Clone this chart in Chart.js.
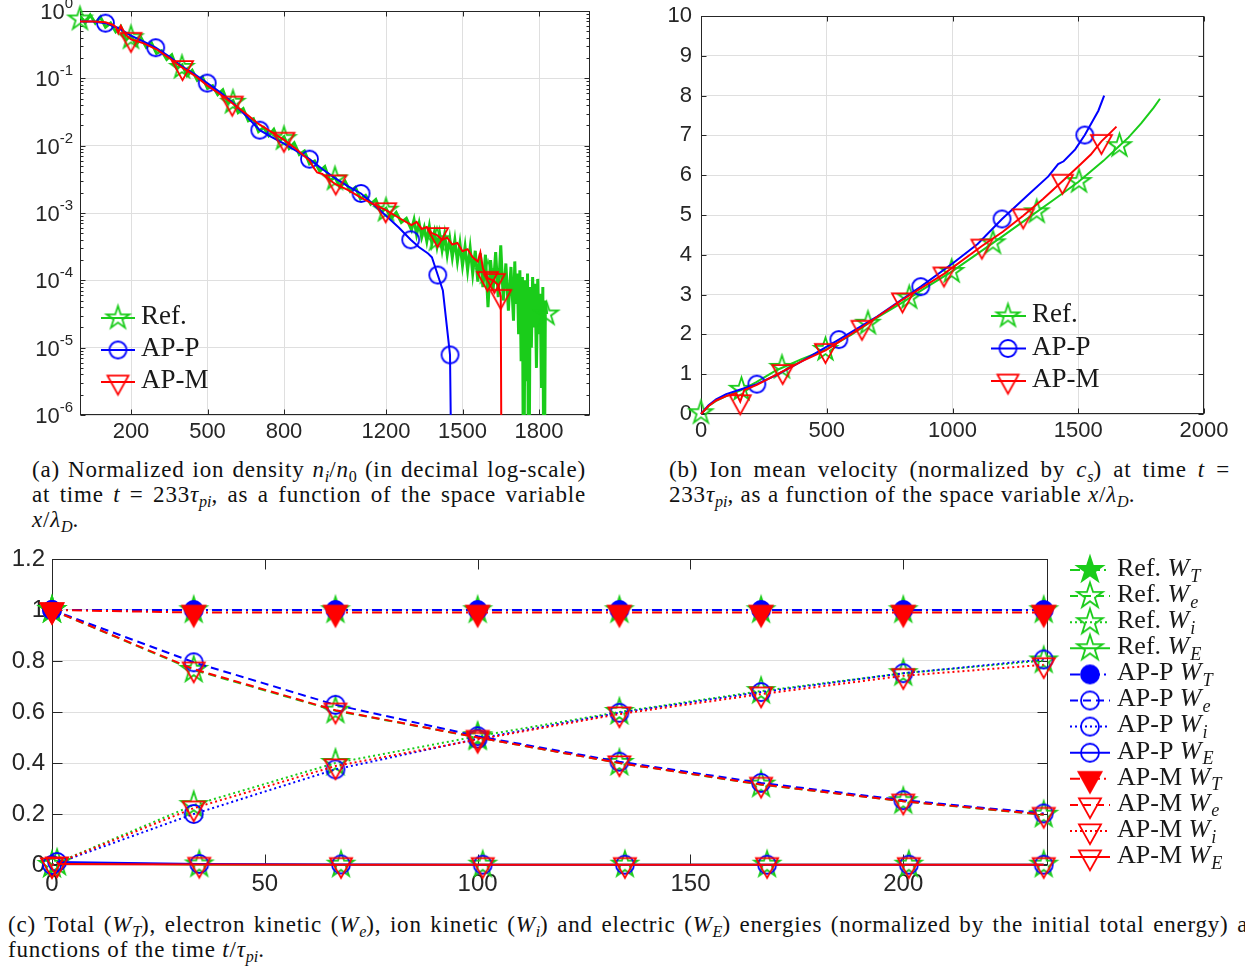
<!DOCTYPE html>
<html>
<head>
<meta charset="utf-8">
<title>Plasma expansion: ion density, ion velocity and energies</title>
<script src="https://cdn.jsdelivr.net/npm/chart.js@4.4.1/dist/chart.umd.min.js"></script>
<style>
  html, body { margin: 0; padding: 0; background: #fff; width: 1245px; height: 966px; overflow: hidden; position: relative; }
  canvas { position: absolute; }
  .cap { position: absolute; font-family: "Liberation Serif", serif; font-size: 23px; letter-spacing: 0.8px; line-height: 25px; color: #111; }
  .cap div { height: 25px; white-space: nowrap; }
  .cap .j { text-align: justify; text-align-last: justify; }
  .cap sub { font-size: 70%; vertical-align: -0.3em; line-height: 0; letter-spacing: 0; }
</style>
</head>
<body>
<canvas id="density" width="600" height="450" style="left:0;top:0"></canvas>
<canvas id="velocity" width="605" height="450" style="left:640px;top:0"></canvas>
<canvas id="energy" width="1245" height="355" style="left:0;top:545px"></canvas>

<div class="cap" style="left:32px;top:457px;width:554px">
  <div class="j">(a) Normalized ion density <i>n<sub>i</sub></i>/<i>n</i><sub>0</sub> (in decimal log-scale)</div>
  <div class="j">at time <i>t</i> = 233<i>τ<sub>pi</sub></i>, as a function of the space variable</div>
  <div><i>x</i>/<i>λ<sub>D</sub></i>.</div>
</div>
<div class="cap" style="left:669px;top:457px;width:561px">
  <div class="j">(b) Ion mean velocity (normalized by <i>c<sub>s</sub></i>) at time <i>t</i> =</div>
  <div>233<i>τ<sub>pi</sub></i>, as a function of the space variable <i>x</i>/<i>λ<sub>D</sub></i>.</div>
</div>
<div class="cap" style="left:8px;top:912px;width:1250px">
  <div class="j">(c) Total (<i>W<sub>T</sub></i>), electron kinetic (<i>W<sub>e</sub></i>), ion kinetic (<i>W<sub>i</sub></i>) and electric (<i>W<sub>E</sub></i>) energies (normalized by the initial total energy) as</div>
  <div>functions of the time <i>t</i>/<i>τ<sub>pi</sub></i>.</div>
</div>

<script>
// ---------------- (a) ion density n_i/n_0 versus x/lambda_D ----------------
const refX = [
  0, 20, 40, 60, 80, 100, 120, 140, 160, 180, 200, 220, 240, 260, 280, 300, 320, 340, 360, 380,
  400, 420, 440, 460, 480, 500, 520, 540, 560, 580, 600, 620, 640, 660, 680, 700, 720, 740, 760, 780,
  800, 820, 840, 860, 880, 900, 920, 940, 960, 980, 1000, 1020, 1040, 1060, 1080, 1100, 1120, 1140, 1160, 1180,
  1200, 1220, 1240, 1260, 1280, 1300,
  1310, 1320, 1330, 1340, 1350, 1360, 1370, 1380, 1390, 1400, 1410, 1420, 1430, 1440, 1450, 1460, 1470, 1480, 1490, 1500,
  1510, 1520, 1530, 1540, 1550, 1560, 1570, 1580, 1590, 1600, 1610, 1620, 1630, 1640, 1650, 1660, 1670, 1680, 1690, 1700,
  1705, 1710, 1715, 1720, 1725, 1730, 1735, 1740, 1745, 1750, 1755, 1760, 1765, 1770, 1775, 1780, 1785, 1790, 1795, 1800,
  1805, 1810, 1815, 1820, 1825, 1830
];
const refN = [
  0.851, 0.661, 0.871, 0.661, 0.813, 0.575, 0.661, 0.490, 0.589, 0.372, 0.427, 0.316, 0.398, 0.288, 0.339, 0.234, 0.257, 0.191, 0.224, 0.141,
  0.158, 0.110, 0.132, 0.0933, 0.105, 0.0708, 0.0776, 0.0575, 0.0676, 0.0427, 0.0468, 0.0309, 0.0355, 0.0234, 0.0251, 0.0162, 0.0186, 0.0141, 0.0174, 0.0115,
  0.0135, 0.00912, 0.0110, 0.00741, 0.00832, 0.00537, 0.00589, 0.00417, 0.00490, 0.00302, 0.00339, 0.00240, 0.00295, 0.00209, 0.00240, 0.00162, 0.00182, 0.00135, 0.00158, 0.00102,
  0.00117, 0.000832, 0.00102, 0.000724, 0.000832, 0.000562,
  7.94e-4, 4.79e-4, 7.08e-4, 4.37e-4, 6.03e-4, 3.80e-4, 6.31e-4, 3.55e-4, 5.25e-4, 3.16e-4,
  5.01e-4, 2.82e-4, 4.79e-4, 2.40e-4, 4.17e-4, 2.19e-4, 3.98e-4, 1.91e-4, 3.55e-4, 1.66e-4,
  3.16e-4, 1.41e-4, 3.02e-4, 1.26e-4, 2.75e-4, 9.55e-5, 2.51e-4, 7.94e-5, 2.40e-4, 3.98e-5,
  2.00e-4, 7.08e-5, 2.63e-4, 5.62e-5, 3.31e-4, 5.01e-5, 1.78e-4, 3.55e-5, 1.58e-4, 2.51e-5,
  1.91e-4, 4.47e-5, 1.26e-4, 1.58e-5, 1.41e-4, 6.31e-6, 1.12e-4, 1e-8, 1.00e-4, 3.16e-6,
  1.26e-4, 1e-8, 7.94e-5, 1.00e-5, 1.12e-4, 2.00e-5, 8.91e-5, 5.01e-6, 1.05e-4, 1.58e-5,
  6.31e-5, 2.51e-6, 7.94e-5, 1e-8, 5.01e-5, 3.16e-5
];
const refMarkX = [0, 200, 400, 600, 800, 1000, 1200, 1400, 1600, 1830];
const refMarkN = [0.76, 0.40, 0.145, 0.044, 0.0127, 0.0032, 0.0011, 0.0004, 0.00013, 0.0000316];

const appX = [0, 50, 100, 150, 200, 250, 297, 350, 400, 450, 499, 550, 600, 650, 705, 750, 800, 850, 900, 950,
  1000, 1050, 1102, 1150, 1200, 1250, 1297, 1330, 1365, 1380, 1403, 1423, 1451, 1460];
const appN = [0.70, 0.70, 0.66, 0.56, 0.43, 0.35, 0.285, 0.21, 0.15, 0.115, 0.085, 0.062, 0.043, 0.028, 0.017, 0.0135, 0.0107, 0.0083, 0.0063, 0.0045,
  0.0033, 0.0025, 0.00195, 0.00135, 0.00091, 0.00061, 0.0004, 0.00031, 0.00025, 0.00022, 0.00012, 0.000071, 0.0000078, 1e-8];
const appMarkX = [100, 297, 499, 705, 900, 1102, 1297, 1403, 1451];
const appMarkN = [0.66, 0.285, 0.085, 0.017, 0.0063, 0.00195, 0.0004, 0.00012, 0.0000078];

const apmX = [0, 50, 100, 130, 140, 150, 160, 180, 200, 250, 300, 350, 400, 450, 500, 550, 600, 650, 700,
  750, 800, 850, 900, 915, 930, 950, 1000, 1050, 1100, 1150, 1200, 1250, 1300,
  1320, 1340, 1360, 1380, 1400, 1420, 1440, 1460, 1480, 1500, 1520, 1540, 1560, 1570, 1580, 1600, 1620, 1640, 1650, 1654];
const apmN = [0.70, 0.70, 0.68, 0.62, 0.58, 0.47, 0.60, 0.44, 0.38, 0.33, 0.27, 0.20, 0.145, 0.11, 0.078, 0.058, 0.042, 0.030, 0.021,
  0.016, 0.0122, 0.0088, 0.0060, 0.0048, 0.0040, 0.0038, 0.0027, 0.0022, 0.0017, 0.00135, 0.0011, 0.00085, 0.00066,
  0.00074, 0.00058, 0.00062, 0.00050, 0.00047, 0.00040, 0.00043, 0.00034, 0.00036, 0.00027, 0.00029, 0.00022, 0.00019, 0.00026, 0.00015, 0.000107, 0.000100, 0.000085, 0.000058, 1e-8];
const apmMarkX = [200, 402, 597, 800, 1003, 1199, 1402, 1598, 1625, 1650];
const apmMarkN = [0.38, 0.145, 0.043, 0.0125, 0.0029, 0.00112, 0.00048, 0.000107, 0.0001, 0.000058];

const densTicksX = [200, 500, 800, 1200, 1500, 1800];
const densDecades = [1e-6, 1e-5, 1e-4, 1e-3, 1e-2, 1e-1, 1];

// ---------------- (b) ion mean velocity versus x/lambda_D ----------------
const velRefX = [0, 30, 60, 100, 160, 220, 300, 400, 500, 600, 700, 800, 900, 1000, 1100, 1200, 1300, 1400, 1500, 1600, 1664, 1700, 1750, 1800, 1825];
const velRefV = [0, 0.20, 0.33, 0.45, 0.60, 0.80, 1.10, 1.38, 1.63, 2.00, 2.42, 2.80, 3.20, 3.59, 4.03, 4.47, 4.92, 5.37, 5.83, 6.36, 6.74, 6.95, 7.30, 7.70, 7.92];
const velRefMarkX = [0, 161, 322, 495, 664, 828, 997, 1161, 1335, 1503, 1664];
const velRefMarkV = [0.03, 0.62, 1.17, 1.62, 2.28, 2.92, 3.58, 4.30, 5.08, 5.84, 6.74];

const velAppX = [0, 30, 60, 100, 160, 222, 300, 400, 548, 700, 874, 1000, 1100, 1197, 1300, 1381, 1420, 1442, 1488, 1526, 1565, 1580, 1603];
const velAppV = [0, 0.22, 0.37, 0.50, 0.62, 0.75, 0.98, 1.32, 1.87, 2.45, 3.20, 3.78, 4.27, 4.90, 5.50, 5.97, 6.28, 6.35, 6.65, 7.01, 7.45, 7.62, 8.00];
const velAppMarkX = [222, 548, 874, 1197, 1526];
const velAppMarkV = [0.75, 1.87, 3.20, 4.90, 7.01];

const velApmX = [0, 30, 60, 100, 140, 156, 172, 222, 325, 400, 495, 640, 801, 966, 1117, 1200, 1281, 1360, 1437, 1500, 1550, 1592, 1620, 1652];
const velApmV = [0, 0.20, 0.34, 0.45, 0.52, 0.31, 0.60, 0.73, 1.07, 1.32, 1.60, 2.18, 2.87, 3.52, 4.22, 4.58, 4.98, 5.40, 5.85, 6.22, 6.52, 6.85, 7.02, 7.22];
const velApmMarkX = [156, 325, 495, 640, 801, 966, 1117, 1281, 1437, 1592];
const velApmMarkV = [0.31, 1.07, 1.60, 2.18, 2.87, 3.52, 4.22, 4.98, 5.85, 6.85];

const velTicksX = [0, 500, 1000, 1500, 2000];
const velTicksY = [0, 1, 2, 3, 4, 5, 6, 7, 8, 9, 10];

// ---------------- (c) energies versus t/tau_pi ----------------
const tMark  = [0, 33.3, 66.6, 100, 133.3, 166.6, 200, 233];
const tMarkE = [1.2, 34.6, 67.9, 101.2, 134.6, 168, 201.3, 233];

const refWT = [1.000, 0.999, 0.999, 0.999, 0.999, 0.999, 0.999, 0.999];
const refWe = [1.000, 0.765, 0.605, 0.500, 0.400, 0.315, 0.250, 0.197];
const refWi = [0.000, 0.235, 0.400, 0.505, 0.600, 0.682, 0.752, 0.802];
const refWE = [0.008, 0.002, 0.001, 0.001, 0.001, 0.001, 0.001, 0.001];

const appWT = [1.000, 1.000, 1.000, 1.000, 1.000, 1.000, 1.000, 1.000];
const appWe = [1.000, 0.795, 0.628, 0.505, 0.405, 0.322, 0.254, 0.202];
const appWi = [0.000, 0.200, 0.375, 0.495, 0.597, 0.678, 0.752, 0.806];
const appWE = [0.012, 0.004, 0.002, 0.001, 0.001, 0.001, 0.001, 0.001];

const apmWT = [1.000, 0.990, 0.990, 0.990, 0.990, 0.990, 0.990, 0.990];
const apmWe = [1.000, 0.768, 0.607, 0.500, 0.400, 0.316, 0.250, 0.198];
const apmWi = [0.000, 0.223, 0.388, 0.492, 0.592, 0.670, 0.742, 0.785];
const apmWE = [0.004, 0.002, 0.001, 0.001, 0.001, 0.001, 0.001, 0.001];

const energyTicksX = [0, 50, 100, 150, 200];
const energyTicksY = [0, 0.2, 0.4, 0.6, 0.8, 1, 1.2];

// ---------------- styling ----------------
const GREEN = 'rgb(26,204,26)';
const BLUE = 'rgb(0,0,255)';
const RED = 'rgb(255,0,0)';
const AXIS = '#262626';
const GRID = '#dfdfdf';
const TICK_FONT = { family: 'Liberation Sans', size: 22 };
const TICK_FONT_C = { family: 'Liberation Sans', size: 24 };
const DASHDOT = [10, 4, 2, 4];
const DASH = [8, 5];
const DOT = [2, 3];
const SOLID = [];

Chart.defaults.font.family = 'Liberation Sans';

// Marker glyphs (pentagram, circle, down-pointing triangle) as small canvases
function marker(kind, color, size, filled, lw) {
  lw = lw || 1.8;
  const h = size * 0.9;
  const half = Math.max(size / 2, (2 * h) / 3);
  const s = Math.ceil(2 * half + 2 * lw + 4);
  const c = document.createElement('canvas');
  c.width = s; c.height = s;
  const g = c.getContext('2d');
  const cx = s / 2, cy = s / 2;
  g.strokeStyle = color; g.fillStyle = color; g.lineWidth = lw; g.lineJoin = 'miter';
  g.beginPath();
  if (kind === 'star') {
    const R = size / 2, r = R * 0.382;
    for (let k = 0; k < 10; k++) {
      const a = -Math.PI / 2 + k * Math.PI / 5;
      const rr = k % 2 ? r : R;
      const px = cx + rr * Math.cos(a), py = cy + rr * Math.sin(a);
      if (k) g.lineTo(px, py); else g.moveTo(px, py);
    }
    g.closePath();
  } else if (kind === 'circle') {
    g.arc(cx, cy, size / 2, 0, 2 * Math.PI);
  } else {
    g.moveTo(cx - size / 2, cy - h / 3);
    g.lineTo(cx + size / 2, cy - h / 3);
    g.lineTo(cx, cy + (2 * h) / 3);
    g.closePath();
  }
  if (filled) g.fill();
  g.stroke();
  return c;
}

function pts(xs, ys) { return xs.map((x, i) => ({ x: x, y: ys[i] })); }

function lineSet(xs, ys, color, dash, clip, width) {
  return { data: pts(xs, ys), showLine: true, borderColor: color, borderWidth: width || 2, borderDash: dash || [],
    pointRadius: 0, pointHoverRadius: 0, tension: 0, fill: false, clip: clip };
}
function markSet(xs, ys, glyph) {
  return { data: pts(xs, ys), showLine: false, pointStyle: glyph, pointRadius: 9, pointHoverRadius: 9,
    backgroundColor: 'rgba(0,0,0,0)', borderColor: 'rgba(0,0,0,0)', clip: false };
}
function stack(list) { list.forEach((d, i) => { d.order = list.length - i; }); return list; }

// fixed axis box sizes, without the extra room Chart.js reserves for end labels
function fitWidth(w) { return s => { s.width = w; s.paddingTop = 0; s.paddingBottom = 0; }; }
function fitHeight(h) { return s => { s.height = h; s.paddingLeft = 0; s.paddingRight = 0; }; }

// Axes box with inward tick marks, optional minor log ticks and 10^k labels
function framePlugin(cfg) {
  return {
    id: 'frame',
    beforeDatasetsDraw(chart) {
      const { ctx, chartArea: a } = chart;
      const xs = chart.scales.x, ys = chart.scales.y;
      const L = Math.round(a.left) + 0.5, R = Math.round(a.right) - 0.5;
      const T = Math.round(a.top) + 0.5, B = Math.round(a.bottom) - 0.5;
      ctx.save();
      ctx.strokeStyle = AXIS; ctx.lineWidth = 1;
      ctx.beginPath();
      xs.ticks.forEach(t => {
        const p = Math.round(xs.getPixelForValue(t.value)) + 0.5;
        ctx.moveTo(p, B); ctx.lineTo(p, B - cfg.len);
        ctx.moveTo(p, T); ctx.lineTo(p, T + cfg.len);
      });
      ys.ticks.forEach(t => {
        const p = Math.round(ys.getPixelForValue(t.value)) + 0.5;
        ctx.moveTo(L, p); ctx.lineTo(L + cfg.len, p);
        ctx.moveTo(R, p); ctx.lineTo(R - cfg.len, p);
      });
      if (cfg.decades) {
        cfg.decades.slice(0, -1).forEach(d => {
          for (let m = 2; m <= 9; m++) {
            const p = Math.round(ys.getPixelForValue(m * d)) + 0.5;
            ctx.moveTo(L, p); ctx.lineTo(L + cfg.minorLen, p);
            ctx.moveTo(R, p); ctx.lineTo(R - cfg.minorLen, p);
          }
        });
      }
      ctx.stroke();
      ctx.strokeRect(L, T, R - L, B - T);
      ctx.restore();
    },
    afterDraw(chart) {
      if (!cfg.powerRight) return;
      const { ctx } = chart;
      const ys = chart.scales.y;
      ctx.save();
      ctx.fillStyle = AXIS; ctx.textBaseline = 'middle';
      ys.ticks.forEach(t => {
        const p = ys.getPixelForValue(t.value);
        const ex = String(Math.round(Math.log10(t.value)));
        ctx.font = '15px "Liberation Sans"';
        const ew = ctx.measureText(ex).width;
        ctx.textAlign = 'left';
        ctx.fillText(ex, cfg.powerRight - ew, p - 7);
        ctx.font = '22px "Liberation Sans"';
        ctx.textAlign = 'right';
        ctx.fillText('10', cfg.powerRight - ew, p + 2);
      });
      ctx.restore();
    }
  };
}

// Legend: line sample with marker, followed by label (regular / italic / italic subscript parts)
function keyPlugin(cfg) {
  return {
    id: 'key',
    afterDraw(chart) {
      const ctx = chart.ctx;
      cfg.items.forEach((it, k) => {
        const y = cfg.y0 + k * cfg.dy;
        ctx.save();
        ctx.strokeStyle = it.color; ctx.lineWidth = 2; ctx.setLineDash(it.dash || []);
        ctx.beginPath(); ctx.moveTo(cfg.x0, y); ctx.lineTo(cfg.x1, y); ctx.stroke();
        ctx.setLineDash([]);
        ctx.drawImage(it.mark, cfg.xm - it.mark.width / 2, y - it.mark.height / 2);
        let x = cfg.xt;
        ctx.fillStyle = '#1a1a1a'; ctx.textBaseline = 'middle'; ctx.textAlign = 'left';
        it.text.forEach(part => {
          const kind = part[1];
          const size = kind === 'sub' ? cfg.size * 0.7 : cfg.size;
          ctx.font = (kind === 'n' ? '' : 'italic ') + size + 'px "Liberation Serif"';
          ctx.fillText(part[0], x, y - 1 + (kind === 'sub' ? cfg.size * 0.3 : 0));
          x += ctx.measureText(part[0]).width + (kind === 'i' ? 1 : 0);
        });
        ctx.restore();
      });
    }
  };
}

function fixedTicks(list) { return s => { s.ticks = list.map(v => ({ value: v })); }; }
const baseOpts = { responsive: false, animation: false, events: [] };

// ---------------- chart (a) ----------------
const starA = marker('star', GREEN, 24, false);
const circA = marker('circle', BLUE, 17, false);
const triA = marker('tri', RED, 21, false);

new Chart(document.getElementById('density'), {
  type: 'scatter',
  data: { datasets: stack([
    lineSet(refX, refN, GREEN, SOLID, 0, 3), markSet(refMarkX, refMarkN, starA),
    lineSet(appX, appN, BLUE, SOLID, 0), markSet(appMarkX, appMarkN, circA),
    lineSet(apmX, apmN, RED, SOLID, 0), markSet(apmMarkX, apmMarkN, triA)
  ]) },
  options: Object.assign({}, baseOpts, {
    layout: { padding: { left: 0, top: 11, right: 7, bottom: 0 } },
    plugins: { legend: { display: false }, tooltip: { enabled: false } },
    scales: {
      x: { type: 'linear', min: 0, max: 2000, afterBuildTicks: fixedTicks(densTicksX), afterFit: fitHeight(35),
        grid: { color: GRID, drawTicks: false }, border: { display: false },
        ticks: { font: TICK_FONT, color: AXIS, padding: 4, autoSkip: false, maxRotation: 0, callback: v => String(v) } },
      y: { type: 'logarithmic', min: 1e-6, max: 1, afterBuildTicks: fixedTicks(densDecades), afterFit: fitWidth(80),
        grid: { color: GRID, drawTicks: false }, border: { display: false }, ticks: { display: false } }
    }
  }),
  plugins: [
    framePlugin({ len: 5, decades: densDecades, minorLen: 3, powerRight: 73 }),
    keyPlugin({ x0: 101, x1: 135, xm: 118, xt: 141, y0: 318, dy: 32, size: 27, items: [
      { color: GREEN, mark: starA, text: [['Ref.', 'n']] },
      { color: BLUE, mark: circA, text: [['AP-P', 'n']] },
      { color: RED, mark: triA, text: [['AP-M', 'n']] }
    ] })
  ]
});

// ---------------- chart (b) ----------------
new Chart(document.getElementById('velocity'), {
  type: 'scatter',
  data: { datasets: stack([
    lineSet(velRefX, velRefV, GREEN, SOLID, false), markSet(velRefMarkX, velRefMarkV, starA),
    lineSet(velAppX, velAppV, BLUE, SOLID, false), markSet(velAppMarkX, velAppMarkV, circA),
    lineSet(velApmX, velApmV, RED, SOLID, false), markSet(velApmMarkX, velApmMarkV, triA)
  ]) },
  options: Object.assign({}, baseOpts, {
    layout: { padding: { left: 0, top: 16, right: 41, bottom: 0 } },
    plugins: { legend: { display: false }, tooltip: { enabled: false } },
    scales: {
      x: { type: 'linear', min: 0, max: 2000, afterBuildTicks: fixedTicks(velTicksX), afterFit: fitHeight(36),
        grid: { color: GRID, drawTicks: false }, border: { display: false },
        ticks: { font: TICK_FONT, color: AXIS, padding: 4, autoSkip: false, maxRotation: 0, callback: v => String(v) } },
      y: { type: 'linear', min: 0, max: 10, afterBuildTicks: fixedTicks(velTicksY), afterFit: fitWidth(61),
        grid: { color: GRID, drawTicks: false }, border: { display: false },
        ticks: { font: TICK_FONT, color: AXIS, padding: 9, autoSkip: false, callback: v => String(v) } }
    }
  }),
  plugins: [
    framePlugin({ len: 5 }),
    keyPlugin({ x0: 351, x1: 386, xm: 368, xt: 392, y0: 316, dy: 32.5, size: 27, items: [
      { color: GREEN, mark: starA, text: [['Ref.', 'n']] },
      { color: BLUE, mark: circA, text: [['AP-P', 'n']] },
      { color: RED, mark: triA, text: [['AP-M', 'n']] }
    ] })
  ]
});

// ---------------- chart (c) ----------------
const starF = marker('star', GREEN, 27, true), starO = marker('star', GREEN, 27, false);
const circF = marker('circle', BLUE, 18, true), circO = marker('circle', BLUE, 18, false);
const triF = marker('tri', RED, 23, true), triO = marker('tri', RED, 22, false);

const energySeries = [
  { name: 'Ref. ',  sub: 'T', t: tMark,  v: refWT, color: GREEN, dash: DASHDOT, mark: starF },
  { name: 'Ref. ',  sub: 'e', t: tMark,  v: refWe, color: GREEN, dash: DASH,    mark: starO },
  { name: 'Ref. ',  sub: 'i', t: tMark,  v: refWi, color: GREEN, dash: DOT,     mark: starO },
  { name: 'Ref. ',  sub: 'E', t: tMarkE, v: refWE, color: GREEN, dash: SOLID,   mark: starO },
  { name: 'AP-P ',  sub: 'T', t: tMark,  v: appWT, color: BLUE,  dash: DASHDOT, mark: circF },
  { name: 'AP-P ',  sub: 'e', t: tMark,  v: appWe, color: BLUE,  dash: DASH,    mark: circO },
  { name: 'AP-P ',  sub: 'i', t: tMark,  v: appWi, color: BLUE,  dash: DOT,     mark: circO },
  { name: 'AP-P ',  sub: 'E', t: tMarkE, v: appWE, color: BLUE,  dash: SOLID,   mark: circO },
  { name: 'AP-M ',  sub: 'T', t: tMark,  v: apmWT, color: RED,   dash: DASHDOT, mark: triF },
  { name: 'AP-M ',  sub: 'e', t: tMark,  v: apmWe, color: RED,   dash: DASH,    mark: triO },
  { name: 'AP-M ',  sub: 'i', t: tMark,  v: apmWi, color: RED,   dash: DOT,     mark: triO },
  { name: 'AP-M ',  sub: 'E', t: tMarkE, v: apmWE, color: RED,   dash: SOLID,   mark: triO }
];

new Chart(document.getElementById('energy'), {
  type: 'scatter',
  data: { datasets: stack(energySeries.map(s => ({
    data: pts(s.t, s.v), showLine: true, borderColor: s.color, borderWidth: 2, borderDash: s.dash,
    pointStyle: s.mark, pointRadius: 9, pointHoverRadius: 9, backgroundColor: 'rgba(0,0,0,0)',
    pointBorderColor: 'rgba(0,0,0,0)', tension: 0, fill: false, clip: false
  }))) },
  options: Object.assign({}, baseOpts, {
    layout: { padding: { left: 0, top: 14, right: 197, bottom: 0 } },
    plugins: { legend: { display: false }, tooltip: { enabled: false } },
    scales: {
      x: { type: 'linear', min: 0, max: 234, afterBuildTicks: fixedTicks(energyTicksX), afterFit: fitHeight(35),
        grid: { display: false, drawTicks: false }, border: { display: false },
        ticks: { font: TICK_FONT_C, color: AXIS, padding: 5, autoSkip: false, maxRotation: 0, callback: v => String(v) } },
      y: { type: 'linear', min: 0, max: 1.2, afterBuildTicks: fixedTicks(energyTicksY), afterFit: fitWidth(52),
        grid: { color: GRID, drawTicks: false }, border: { display: false },
        ticks: { font: TICK_FONT_C, color: AXIS, padding: 7, autoSkip: false, callback: v => String(Math.round(v * 10) / 10) } }
    }
  }),
  plugins: [
    framePlugin({ len: 10 }),
    keyPlugin({ x0: 1070, x1: 1110, xm: 1090, xt: 1117, y0: 25, dy: 26.1, size: 26,
      items: energySeries.map(s => ({ color: s.color, dash: s.dash, mark: s.mark,
        text: [[s.name, 'n'], ['W', 'i'], [s.sub, 'sub']] })) })
  ]
});
</script>
</body>
</html>
